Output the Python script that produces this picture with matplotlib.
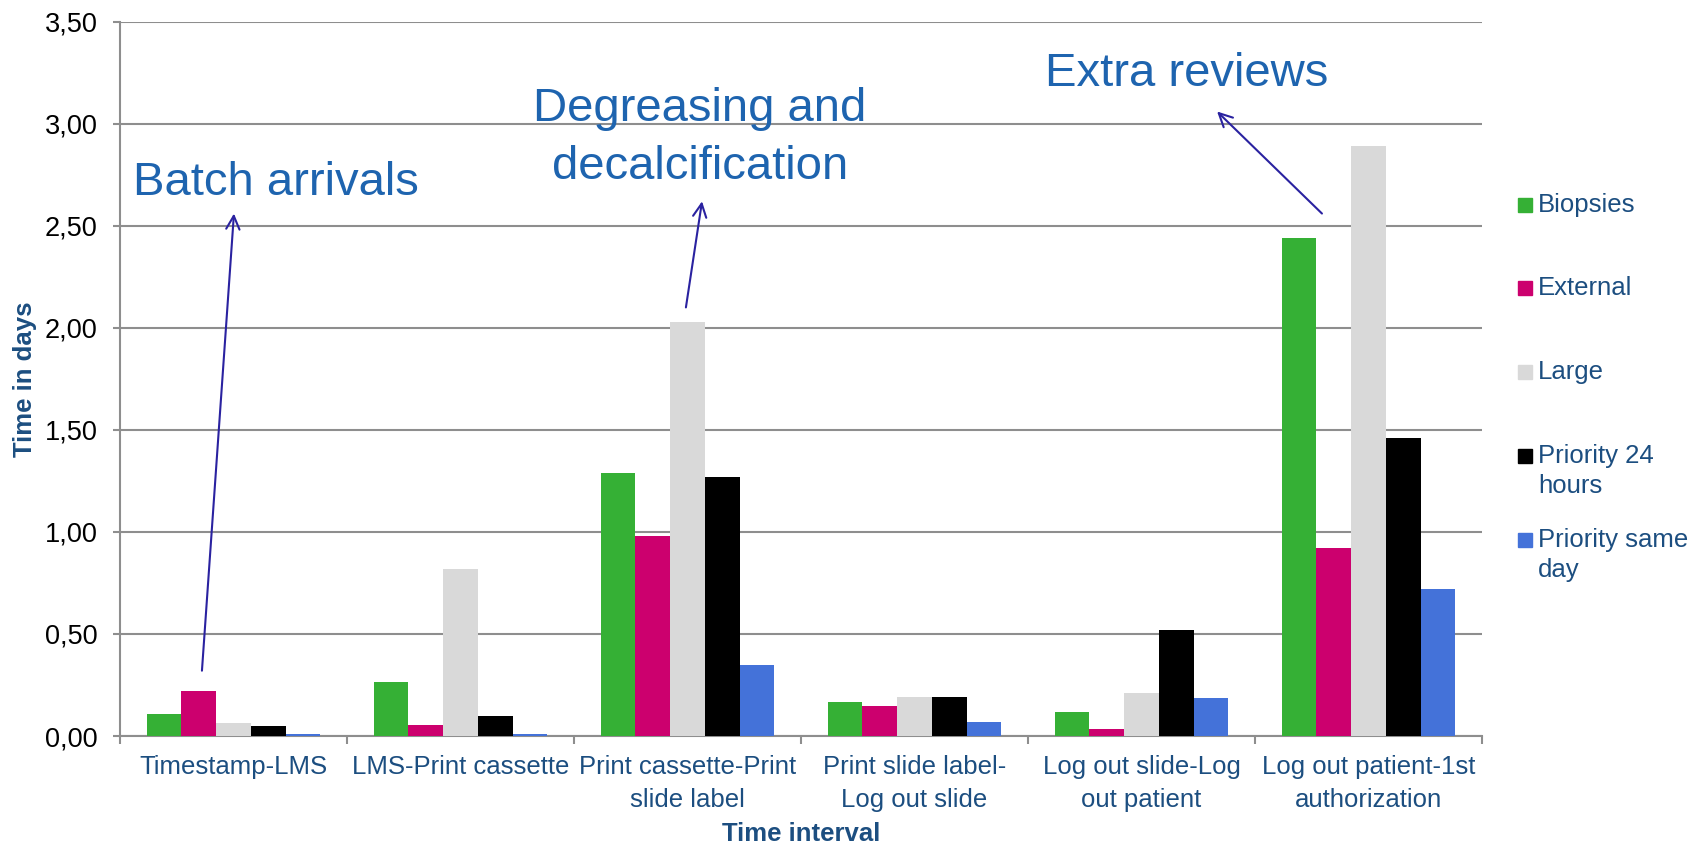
import matplotlib
matplotlib.use("Agg")
import matplotlib.pyplot as plt
import numpy as np
from matplotlib.patches import Rectangle
from matplotlib.ticker import FuncFormatter, FixedLocator

# Processing intervals and mean time (days) per specimen category
intervals = [
    "Timestamp-LMS",
    "LMS-Print cassette",
    "Print cassette-Print\nslide label",
    "Print slide label-\nLog out slide",
    "Log out slide-Log\nout patient",
    "Log out patient-1st\nauthorization",
]
series_names = ["Biopsies", "External", "Large", "Priority 24\nhours", "Priority same\nday"]
biopsies = [0.106, 0.266, 1.29, 0.165, 0.117, 2.44]
external = [0.22, 0.053, 0.98, 0.149, 0.032, 0.92]
large = [0.064, 0.82, 2.03, 0.19, 0.213, 2.89]
priority_24h = [0.048, 0.096, 1.27, 0.19, 0.52, 1.46]
priority_same_day = [0.008, 0.009, 0.346, 0.07, 0.186, 0.72]
series_values = [biopsies, external, large, priority_24h, priority_same_day]
series_colors = ["#35B035", "#CC006E", "#D9D9D9", "#000000", "#4472D9"]

W, H = 1703, 843
TEXT_BLUE = "#1C4E80"
NOTE_BLUE = "#1E64AF"
ARROW_BLUE = "#2A22A0"
GRID = "#8E8E8E"

plt.rcParams["font.family"] = ["Liberation Sans", "DejaVu Sans"]

fig = plt.figure(figsize=(W / 100, H / 100), dpi=100)
ax = fig.add_axes([120 / W, (H - 736) / H, 1362 / W, (736 - 21.7) / H])

x = np.arange(len(intervals))
bw = 0.153
offsets = (np.arange(len(series_values)) - 2) * bw
for vals, off, col in zip(series_values, offsets, series_colors):
    ax.bar(x + off, vals, bw, color=col, zorder=3)

ax.set_xlim(-0.5, len(intervals) - 0.5)
ax.set_ylim(0, 3.5)
ax.set_yticks(np.arange(0, 3.51, 0.5))
ax.yaxis.set_major_formatter(FuncFormatter(lambda v, p: f"{v:.2f}".replace(".", ",")))
ax.grid(axis="y", color=GRID, lw=1.5, zorder=0)
ax.set_axisbelow(True)

for side in ("top", "right"):
    ax.spines[side].set_visible(False)
for side in ("left", "bottom"):
    ax.spines[side].set_color(GRID)
    ax.spines[side].set_linewidth(1.5)

ax.tick_params(axis="y", length=5, width=1.5, color=GRID, pad=11, labelsize=19.5, labelcolor="black")
ax.set_xticks(x)
ax.set_xticklabels(intervals)
ax.xaxis.set_minor_locator(FixedLocator(np.arange(-0.5, len(intervals), 1.0)))
ax.tick_params(axis="x", which="major", length=0, pad=14, labelsize=18.5, labelcolor=TEXT_BLUE)
ax.tick_params(axis="x", which="minor", length=6, width=1.5, color=GRID)
for lab in ax.get_xticklabels():
    lab.set_linespacing(1.45)

ax.set_xlabel("Time interval", fontsize=18.5, fontweight="bold", color=TEXT_BLUE)
ax.xaxis.set_label_coords(0.5, -0.12)
ax.text(-0.07, 0.5, "Time in days", transform=ax.transAxes, rotation=90,
        ha="center", va="center", fontsize=18.5, fontweight="bold", color=TEXT_BLUE)

# callouts
ax.text(-0.443, 2.65, "Batch arrivals", fontsize=34, color=NOTE_BLUE, va="baseline", ha="left")
ax.text(2.055, 2.93, "Degreasing and\ndecalcification", fontsize=34, color=NOTE_BLUE,
        ha="center", va="center", linespacing=1.4)
ax.text(4.20, 3.245, "Extra reviews", fontsize=34, color=NOTE_BLUE, ha="center", va="center")
arrows = [((0.002, 2.56), (-0.139, 0.32)),
          ((2.064, 2.62), (1.993, 2.10)),
          ((4.333, 3.06), (4.795, 2.56))]
for head, tail in arrows:
    ax.annotate("", xy=head, xytext=tail,
                arrowprops=dict(arrowstyle="->", color=ARROW_BLUE, lw=1.5,
                                mutation_scale=24, shrinkA=0, shrinkB=0))

# legend on the right, one square per series
for i, (name, col) in enumerate(zip(series_names, series_colors)):
    base = 211.7 + i * 83.7
    fig.add_artist(Rectangle((1518 / W, 1 - base / H), 14 / W, 14 / H,
                             transform=fig.transFigure, color=col))
    for j, line in enumerate(name.split("\n")):
        fig.text(1538 / W, 1 - (base + j * 30) / H, line, fontsize=18.5,
                 color=TEXT_BLUE, ha="left", va="baseline")

fig.savefig("out.png", dpi=100)
